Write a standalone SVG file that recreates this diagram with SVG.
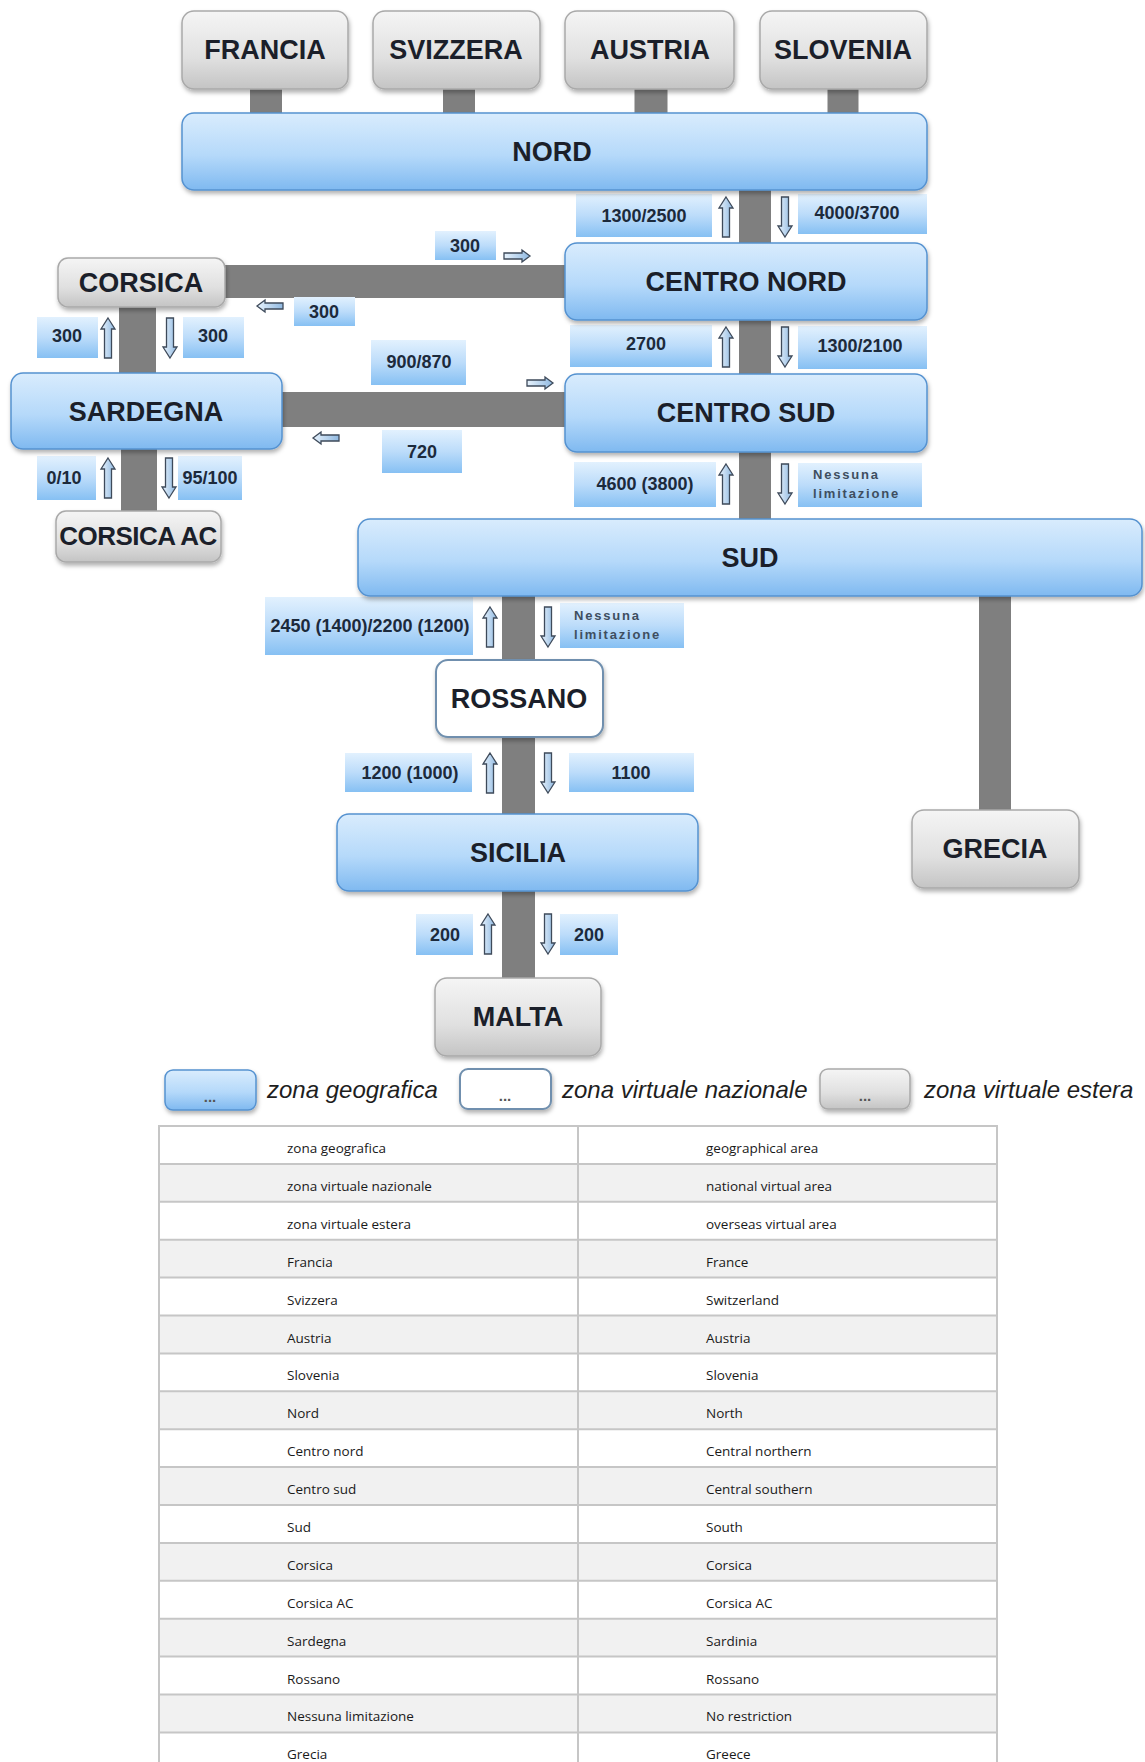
<svg xmlns="http://www.w3.org/2000/svg" width="1145" height="1762" viewBox="0 0 1145 1762">
<defs>
  <linearGradient id="gBlue" x1="0" y1="0" x2="0" y2="1">
    <stop offset="0" stop-color="#d9ecfd"/>
    <stop offset="0.55" stop-color="#b5d9fa"/>
    <stop offset="1" stop-color="#7fb9f0"/>
  </linearGradient>
  <linearGradient id="gLabel" x1="0" y1="0" x2="0" y2="1">
    <stop offset="0" stop-color="#e2f1fe"/>
    <stop offset="0.5" stop-color="#bcdcfa"/>
    <stop offset="1" stop-color="#86c0f3"/>
  </linearGradient>
  <linearGradient id="gGray" x1="0" y1="0" x2="0" y2="1">
    <stop offset="0" stop-color="#f5f5f5"/>
    <stop offset="0.6" stop-color="#e0e0e0"/>
    <stop offset="1" stop-color="#c4c4c4"/>
  </linearGradient>
  <linearGradient id="gArrowV" x1="0" y1="0" x2="1" y2="0">
    <stop offset="0" stop-color="#e8f3fd"/>
    <stop offset="1" stop-color="#8fb8e0"/>
  </linearGradient>
  <filter id="shadow" x="-10%" y="-20%" width="120%" height="150%">
    <feDropShadow dx="1" dy="3" stdDeviation="2" flood-color="#000" flood-opacity="0.3"/>
  </filter>
  <path id="arrUp" d="M0,0 L7,11 L3.5,11 L3.5,40 L-3.5,40 L-3.5,11 L-7,11 Z"/>
  <path id="arrDown" d="M0,40 L7,29 L3.5,29 L3.5,0 L-3.5,0 L-3.5,29 L-7,29 Z"/>
  <path id="arrRight" d="M26,0 L18,-6 L18,-3 L0,-3 L0,3 L18,3 L18,6 Z"/>
  <path id="arrLeft" d="M0,0 L8,-6 L8,-3 L26,-3 L26,3 L8,3 L8,6 Z"/>
  <style>
    .blue { fill: url(#gBlue); stroke: #5592d0; stroke-width: 1.5; filter: url(#shadow); }
    .gray { fill: url(#gGray); stroke: #a9a9a9; stroke-width: 1.5; filter: url(#shadow); }
    .white { fill: #ffffff; stroke: #6f8fae; stroke-width: 2; filter: url(#shadow); }
    .nt { font-family: "Liberation Sans", Arial, sans-serif; font-weight: bold; font-size: 27px; fill: #1b1f2a; text-anchor: middle; }
    .bar { stroke: #7f7f7f; fill: none; }
    .lab { fill: url(#gLabel); }
    .lt { font-family: "Liberation Sans", Arial, sans-serif; font-weight: bold; font-size: 18px; fill: #1c2a3c; text-anchor: middle; }
    .ls { font-family: "Liberation Sans", Arial, sans-serif; font-weight: bold; font-size: 13px; letter-spacing: 1.8px; fill: #3e4e60; }
    .arr { fill: url(#gArrowV); stroke: #3e4a5a; stroke-width: 1.3; }
    .leg { font-family: "Liberation Sans", Arial, sans-serif; font-style: italic; font-size: 24px; fill: #1e1e1e; }
    .dots { font-family: "Liberation Sans", Arial, sans-serif; font-weight: bold; font-size: 15px; fill: #555; text-anchor: middle; }
    .tt { font-family: "Open Sans", "Noto Sans", sans-serif; font-size: 13.5px; fill: #1a1a1a; }
    .rowA { fill: #ffffff; }
    .rowB { fill: #f1f1f1; }
    .tl { stroke: #c6c6c6; stroke-width: 2; }
  </style>
</defs>
<rect width="1145" height="1762" fill="#ffffff"/>

<g id="connectors">
  <line class="bar" x1="266" y1="88" x2="266" y2="116" stroke-width="32"/>
  <line class="bar" x1="459" y1="88" x2="459" y2="116" stroke-width="32"/>
  <line class="bar" x1="651" y1="88" x2="651" y2="116" stroke-width="33"/>
  <line class="bar" x1="843" y1="88" x2="843" y2="116" stroke-width="31"/>
  <line class="bar" x1="755" y1="190" x2="755" y2="245" stroke-width="32"/>
  <line class="bar" x1="224" y1="281.5" x2="566" y2="281.5" stroke-width="33"/>
  <line class="bar" x1="755" y1="319" x2="755" y2="375" stroke-width="32"/>
  <line class="bar" x1="137.5" y1="306" x2="137.5" y2="374" stroke-width="37"/>
  <line class="bar" x1="281" y1="409.5" x2="566" y2="409.5" stroke-width="35"/>
  <line class="bar" x1="755" y1="451" x2="755" y2="520" stroke-width="32"/>
  <line class="bar" x1="139" y1="448" x2="139" y2="512" stroke-width="36"/>
  <line class="bar" x1="518.5" y1="595" x2="518.5" y2="661" stroke-width="33"/>
  <line class="bar" x1="518.5" y1="736" x2="518.5" y2="815" stroke-width="33"/>
  <line class="bar" x1="995" y1="595" x2="995" y2="811" stroke-width="32"/>
  <line class="bar" x1="518.5" y1="890" x2="518.5" y2="979" stroke-width="33"/>

  <use href="#arrUp" class="arr" x="726" y="197"/>
  <use href="#arrDown" class="arr" x="785" y="197"/>
  <use href="#arrUp" class="arr" x="726" y="327"/>
  <use href="#arrDown" class="arr" x="785" y="327"/>
  <use href="#arrUp" class="arr" x="726" y="464"/>
  <use href="#arrDown" class="arr" x="785" y="464"/>
  <use href="#arrUp" class="arr" x="108" y="318"/>
  <use href="#arrDown" class="arr" x="170" y="318"/>
  <use href="#arrUp" class="arr" x="108" y="458"/>
  <use href="#arrDown" class="arr" x="169" y="458"/>
  <use href="#arrUp" class="arr" x="490" y="607"/>
  <use href="#arrDown" class="arr" x="548" y="607"/>
  <use href="#arrUp" class="arr" x="490" y="753"/>
  <use href="#arrDown" class="arr" x="548" y="753"/>
  <use href="#arrUp" class="arr" x="488" y="914"/>
  <use href="#arrDown" class="arr" x="548" y="914"/>
  <use href="#arrRight" class="arr" x="504" y="256"/>
  <use href="#arrLeft" class="arr" x="257" y="306"/>
  <use href="#arrRight" class="arr" x="527" y="383"/>
  <use href="#arrLeft" class="arr" x="313" y="438"/>
</g>

<g id="labels">
  <rect class="lab" x="576" y="194" width="136" height="43"/><text class="lt" x="644" y="222">1300/2500</text>
  <rect class="lab" x="798" y="194" width="129" height="40"/><text class="lt" x="857" y="219">4000/3700</text>
  <rect class="lab" x="435" y="231" width="61" height="29"/><text class="lt" x="465" y="252">300</text>
  <rect class="lab" x="294" y="297" width="61" height="29"/><text class="lt" x="324" y="318">300</text>
  <rect class="lab" x="37" y="317" width="61" height="41"/><text class="lt" x="67" y="342">300</text>
  <rect class="lab" x="183" y="317" width="61" height="41"/><text class="lt" x="213" y="342">300</text>
  <rect class="lab" x="570" y="325" width="142" height="42"/><text class="lt" x="646" y="350">2700</text>
  <rect class="lab" x="798" y="326" width="129" height="43"/><text class="lt" x="860" y="352">1300/2100</text>
  <rect class="lab" x="371" y="340" width="95" height="45"/><text class="lt" x="419" y="368">900/870</text>
  <rect class="lab" x="382" y="430" width="80" height="43"/><text class="lt" x="422" y="458">720</text>
  <rect class="lab" x="574" y="462" width="142" height="45"/><text class="lt" x="645" y="490">4600 (3800)</text>
  <rect class="lab" x="798" y="463" width="124" height="44"/><text class="ls" x="813" y="479">Nessuna</text><text class="ls" x="813" y="498">limitazione</text>
  <rect class="lab" x="37" y="456" width="59" height="44"/><text class="lt" x="64" y="484">0/10</text>
  <rect class="lab" x="178" y="456" width="64" height="44"/><text class="lt" x="210" y="484">95/100</text>
  <rect class="lab" x="265" y="597" width="208" height="58"/><text class="lt" x="370" y="632">2450 (1400)/2200 (1200)</text>
  <rect class="lab" x="560" y="603" width="124" height="45"/><text class="ls" x="574" y="620">Nessuna</text><text class="ls" x="574" y="639">limitazione</text>
  <rect class="lab" x="345" y="753" width="127" height="39"/><text class="lt" x="410" y="779">1200 (1000)</text>
  <rect class="lab" x="569" y="753" width="125" height="39"/><text class="lt" x="631" y="779">1100</text>
  <rect class="lab" x="416" y="914" width="57" height="41"/><text class="lt" x="445" y="941">200</text>
  <rect class="lab" x="560" y="914" width="58" height="41"/><text class="lt" x="589" y="941">200</text>
</g>

<g id="francia"><rect class="gray" x="182" y="11" width="166" height="78" rx="12"/><text class="nt" x="265" y="59">FRANCIA</text></g>
<g id="svizzera"><rect class="gray" x="373" y="11" width="167" height="78" rx="12"/><text class="nt" x="456" y="59">SVIZZERA</text></g>
<g id="austria"><rect class="gray" x="565" y="11" width="169" height="78" rx="12"/><text class="nt" x="650" y="59">AUSTRIA</text></g>
<g id="slovenia"><rect class="gray" x="760" y="11" width="167" height="78" rx="12"/><text class="nt" x="843" y="59">SLOVENIA</text></g>
<g id="nord"><rect class="blue" x="182" y="113" width="745" height="77" rx="12"/><text class="nt" x="552" y="161">NORD</text></g>
<g id="corsica"><rect class="gray" x="58" y="258" width="167" height="49" rx="10"/><text class="nt" x="141" y="292">CORSICA</text></g>
<g id="centro-nord"><rect class="blue" x="565" y="243" width="362" height="77" rx="12"/><text class="nt" x="746" y="291">CENTRO NORD</text></g>
<g id="sardegna"><rect class="blue" x="11" y="373" width="271" height="76" rx="12"/><text class="nt" x="146" y="421">SARDEGNA</text></g>
<g id="centro-sud"><rect class="blue" x="565" y="374" width="362" height="78" rx="12"/><text class="nt" x="746" y="422">CENTRO SUD</text></g>
<g id="corsica-ac"><rect class="gray" x="56" y="511" width="165" height="51" rx="10"/><text class="nt" x="138" y="545" style="font-size:26px;letter-spacing:-0.5px">CORSICA AC</text></g>
<g id="sud"><rect class="blue" x="358" y="519" width="784" height="77" rx="12"/><text class="nt" x="750" y="567">SUD</text></g>
<g id="rossano"><rect class="white" x="436" y="660" width="167" height="77" rx="12"/><text class="nt" x="519" y="708">ROSSANO</text></g>
<g id="sicilia"><rect class="blue" x="337" y="814" width="361" height="77" rx="12"/><text class="nt" x="518" y="862">SICILIA</text></g>
<g id="grecia"><rect class="gray" x="912" y="810" width="167" height="78" rx="12"/><text class="nt" x="995" y="858">GRECIA</text></g>
<g id="malta"><rect class="gray" x="435" y="978" width="166" height="78" rx="12"/><text class="nt" x="518" y="1026">MALTA</text></g>

<g id="legend">
  <rect class="blue" x="165" y="1070" width="91" height="40" rx="8"/><text class="dots" x="210" y="1102">...</text>
  <text class="leg" x="267" y="1098">zona geografica</text>
  <rect class="white" x="460" y="1069" width="91" height="40" rx="8"/><text class="dots" x="505" y="1101">...</text>
  <text class="leg" x="562" y="1098">zona virtuale nazionale</text>
  <rect class="gray" x="820" y="1069" width="90" height="40" rx="8"/><text class="dots" x="865" y="1101">...</text>
  <text class="leg" x="924" y="1098">zona virtuale estera</text>
</g>

<g id="table">
  <rect class="rowA" x="158" y="1126" width="840" height="37.9"/>
  <rect class="rowB" x="158" y="1163.9" width="840" height="37.9"/>
  <rect class="rowA" x="158" y="1201.8" width="840" height="37.9"/>
  <rect class="rowB" x="158" y="1239.7" width="840" height="37.9"/>
  <rect class="rowA" x="158" y="1277.6" width="840" height="37.9"/>
  <rect class="rowB" x="158" y="1315.5" width="840" height="37.9"/>
  <rect class="rowA" x="158" y="1353.4" width="840" height="37.9"/>
  <rect class="rowB" x="158" y="1391.3" width="840" height="37.9"/>
  <rect class="rowA" x="158" y="1429.2" width="840" height="37.9"/>
  <rect class="rowB" x="158" y="1467.1" width="840" height="37.9"/>
  <rect class="rowA" x="158" y="1505" width="840" height="37.9"/>
  <rect class="rowB" x="158" y="1542.9" width="840" height="37.9"/>
  <rect class="rowA" x="158" y="1580.8" width="840" height="37.9"/>
  <rect class="rowB" x="158" y="1618.7" width="840" height="37.9"/>
  <rect class="rowA" x="158" y="1656.6" width="840" height="37.9"/>
  <rect class="rowB" x="158" y="1694.5" width="840" height="37.9"/>
  <rect class="rowA" x="158" y="1732.4" width="840" height="37.9"/>
  <line class="tl" x1="158" y1="1126" x2="998" y2="1126"/>
  <line class="tl" x1="158" y1="1163.9" x2="998" y2="1163.9"/>
  <line class="tl" x1="158" y1="1201.8" x2="998" y2="1201.8"/>
  <line class="tl" x1="158" y1="1239.7" x2="998" y2="1239.7"/>
  <line class="tl" x1="158" y1="1277.6" x2="998" y2="1277.6"/>
  <line class="tl" x1="158" y1="1315.5" x2="998" y2="1315.5"/>
  <line class="tl" x1="158" y1="1353.4" x2="998" y2="1353.4"/>
  <line class="tl" x1="158" y1="1391.3" x2="998" y2="1391.3"/>
  <line class="tl" x1="158" y1="1429.2" x2="998" y2="1429.2"/>
  <line class="tl" x1="158" y1="1467.1" x2="998" y2="1467.1"/>
  <line class="tl" x1="158" y1="1505" x2="998" y2="1505"/>
  <line class="tl" x1="158" y1="1542.9" x2="998" y2="1542.9"/>
  <line class="tl" x1="158" y1="1580.8" x2="998" y2="1580.8"/>
  <line class="tl" x1="158" y1="1618.7" x2="998" y2="1618.7"/>
  <line class="tl" x1="158" y1="1656.6" x2="998" y2="1656.6"/>
  <line class="tl" x1="158" y1="1694.5" x2="998" y2="1694.5"/>
  <line class="tl" x1="158" y1="1732.4" x2="998" y2="1732.4"/>
  <line class="tl" x1="159" y1="1126" x2="159" y2="1762"/>
  <line class="tl" x1="578" y1="1126" x2="578" y2="1762"/>
  <line class="tl" x1="997" y1="1126" x2="997" y2="1762"/>
  <text class="tt" x="287" y="1153">zona geografica</text><text class="tt" x="706" y="1153">geographical area</text>
  <text class="tt" x="287" y="1191">zona virtuale nazionale</text><text class="tt" x="706" y="1191">national virtual area</text>
  <text class="tt" x="287" y="1229">zona virtuale estera</text><text class="tt" x="706" y="1229">overseas virtual area</text>
  <text class="tt" x="287" y="1267">Francia</text><text class="tt" x="706" y="1267">France</text>
  <text class="tt" x="287" y="1305">Svizzera</text><text class="tt" x="706" y="1305">Switzerland</text>
  <text class="tt" x="287" y="1343">Austria</text><text class="tt" x="706" y="1343">Austria</text>
  <text class="tt" x="287" y="1380">Slovenia</text><text class="tt" x="706" y="1380">Slovenia</text>
  <text class="tt" x="287" y="1418">Nord</text><text class="tt" x="706" y="1418">North</text>
  <text class="tt" x="287" y="1456">Centro nord</text><text class="tt" x="706" y="1456">Central northern</text>
  <text class="tt" x="287" y="1494">Centro sud</text><text class="tt" x="706" y="1494">Central southern</text>
  <text class="tt" x="287" y="1532">Sud</text><text class="tt" x="706" y="1532">South</text>
  <text class="tt" x="287" y="1570">Corsica</text><text class="tt" x="706" y="1570">Corsica</text>
  <text class="tt" x="287" y="1608">Corsica AC</text><text class="tt" x="706" y="1608">Corsica AC</text>
  <text class="tt" x="287" y="1646">Sardegna</text><text class="tt" x="706" y="1646">Sardinia</text>
  <text class="tt" x="287" y="1684">Rossano</text><text class="tt" x="706" y="1684">Rossano</text>
  <text class="tt" x="287" y="1721">Nessuna limitazione</text><text class="tt" x="706" y="1721">No restriction</text>
  <text class="tt" x="287" y="1759">Grecia</text><text class="tt" x="706" y="1759">Greece</text>
</g>
</svg>
